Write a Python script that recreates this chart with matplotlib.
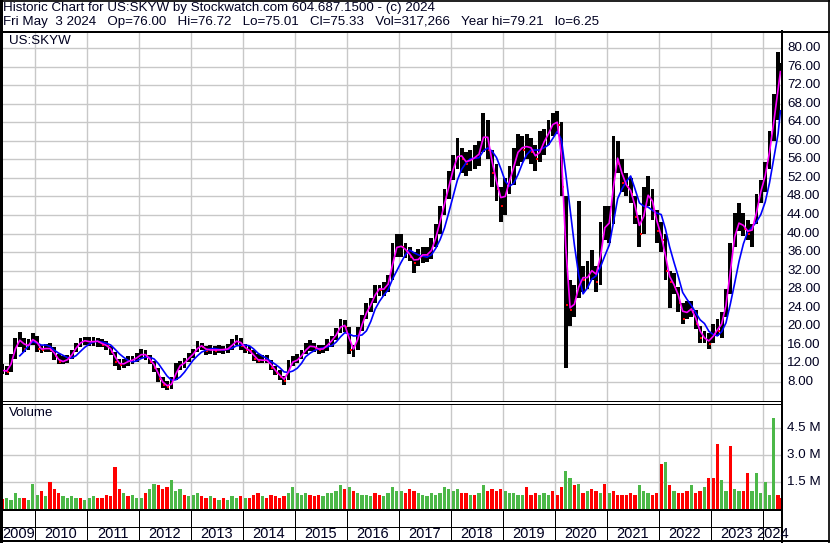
import matplotlib
matplotlib.use('Agg')
import matplotlib.pyplot as plt
from matplotlib.lines import Line2D
import numpy as np
import pandas as pd

plt.rcParams['font.family'] = ['Liberation Sans', 'DejaVu Sans']

title_line1 = "Historic Chart for US:SKYW by Stockwatch.com 604.687.1500 - (c) 2024"
title_line2 = ("Fri May  3 2024   Op=76.00   Hi=76.72   Lo=75.01   Cl=75.33   "
               "Vol=317,266   Year hi=79.21   lo=6.25")
symbol = "US:SKYW"
first_month = "2009-05"
last_day = "2024-05-03"

# monthly low / high / close (May 2009 .. May 2024)
low = [
    9.8, 9.6, 10.2, 13.0, 15.5, 14.5, 14.8, 16.0,
    14.5, 14.2, 14.5, 14.5, 12.8, 11.8, 11.8, 12.0, 13.0, 14.5, 15.5, 16.0,
    15.8, 15.8, 15.5, 15.5, 14.8, 13.8, 11.5, 10.5, 11.0, 11.5, 11.8, 12.2,
    13.2, 12.8, 11.8, 10.2, 8.0, 6.6, 6.25, 6.5, 8.5, 10.5, 11.0, 12.2,
    13.2, 14.5, 14.8, 13.8, 14.0, 13.8, 14.2, 14.0, 14.2, 15.0, 16.0, 15.0,
    14.2, 14.0, 12.6, 12.0, 12.0, 12.0, 10.5, 9.5, 8.5, 7.4, 8.5, 11.5,
    12.0, 13.0, 14.0, 14.6, 14.4, 14.0, 14.2, 14.6, 15.6, 17.0, 18.6, 18.8,
    14.0, 13.4, 15.0, 19.0, 21.5, 23.0, 25.0, 26.5, 26.5, 27.5, 30.0, 35.0,
    35.0, 34.8, 34.0, 31.5, 33.0, 33.6, 33.8, 34.5, 37.0, 40.0, 44.0, 47.5,
    51.5, 54.0, 53.0, 52.5, 53.5, 54.0, 54.5, 57.5, 56.0, 50.0, 47.0, 42.5,
    44.0, 48.5, 50.5, 54.5, 55.5, 56.0, 55.0, 53.5, 55.5, 57.0, 59.0, 61.0,
    61.5, 48.0, 11.0, 20.0, 22.0, 26.0, 27.5, 28.0, 30.0, 27.5, 29.0, 38.5,
    38.0, 42.0, 53.0, 49.0, 48.0, 46.5, 42.0, 37.0, 40.0, 46.0, 43.0, 38.0,
    36.0, 30.0, 24.0, 27.0, 23.0, 20.5, 21.5, 22.0, 19.5, 16.5, 16.5, 15.2,
    16.5, 18.0, 17.5, 22.0, 27.0, 37.0, 40.5, 39.5, 38.5, 37.0, 42.0, 46.5,
    49.0, 54.0, 60.0, 64.5, 75.0]

high = [
    11.8, 11.5, 14.0, 17.5, 18.8, 17.5, 17.2, 18.5,
    18.0, 16.0, 16.2, 16.5, 15.5, 14.0, 13.5, 13.8, 15.0, 16.5, 17.5, 17.8,
    17.6, 17.8, 17.5, 17.2, 16.8, 15.8, 14.5, 13.0, 13.0, 13.5, 13.5, 14.2,
    15.2, 14.8, 13.8, 12.6, 11.0, 9.0, 8.2, 9.0, 12.0, 12.6, 13.2, 14.2,
    15.2, 16.8, 16.5, 15.8, 16.0, 15.8, 16.0, 15.8, 16.2, 17.2, 18.2, 17.5,
    16.2, 15.8, 14.8, 14.0, 13.8, 13.8, 12.8, 11.5, 10.5, 9.2, 12.8, 13.5,
    14.0, 15.0, 16.4, 17.0, 16.4, 16.0, 16.0, 17.2, 18.0, 19.6, 21.6, 21.4,
    19.8, 16.0, 19.8, 22.5, 25.0, 26.0, 29.0, 29.0, 29.5, 31.0, 38.0, 40.0,
    39.8, 38.0, 37.0, 36.0, 36.6, 37.0, 37.0, 39.0, 42.0, 46.0, 49.5, 53.5,
    57.0, 60.5, 58.5, 57.5, 58.0, 59.0, 60.0, 66.0, 64.5, 58.0, 55.0, 50.0,
    52.0, 54.5, 58.5, 61.5, 61.0, 61.5, 60.5, 59.0, 62.0, 62.5, 64.5, 66.0,
    66.5, 64.0, 48.0, 30.0, 29.0, 47.0, 33.0, 34.0, 36.5, 33.0, 42.5, 46.0,
    46.0, 61.0, 60.0, 56.0, 53.0, 52.0, 48.0, 44.0, 50.0, 52.5, 49.5, 45.0,
    42.5, 40.0, 32.0, 31.5, 28.5, 25.0, 25.5, 25.5, 23.5, 20.0, 19.0, 18.5,
    20.5, 21.5, 23.0, 28.0, 38.0, 44.5, 46.5, 44.5, 43.0, 42.0, 48.5, 51.5,
    55.5, 62.0, 70.0, 79.2, 76.7]

close = [
    10.5, 10.2, 13.5, 16.8, 17.2, 15.2, 16.5, 17.8,
    15.2, 15.0, 15.4, 15.0, 13.5, 12.2, 12.6, 13.0, 14.6, 16.0, 16.8, 17.0,
    16.4, 17.0, 16.6, 16.0, 15.8, 14.5, 12.4, 11.6, 12.2, 12.6, 12.8, 13.6,
    14.2, 13.6, 12.4, 11.0, 8.6, 7.4, 7.0, 8.0, 11.4, 11.6, 12.6, 13.6,
    14.4, 16.0, 15.6, 14.6, 15.2, 14.6, 15.2, 14.8, 15.4, 16.4, 17.2, 15.8,
    15.0, 14.6, 13.0, 12.6, 12.8, 12.6, 11.0, 10.0, 9.0, 8.2, 12.2, 12.4,
    13.0, 14.2, 15.4, 16.0, 15.2, 15.0, 15.2, 16.6, 17.2, 19.0, 20.6, 19.8,
    15.0, 15.2, 19.2, 21.5, 24.2, 25.0, 28.4, 27.8, 28.2, 30.0, 36.5, 37.5,
    37.0, 36.2, 35.0, 33.6, 35.2, 35.6, 35.2, 37.5, 40.6, 44.6, 48.0, 52.0,
    55.6, 57.5, 56.0, 55.0, 56.5, 56.2, 58.0, 63.5, 58.0, 53.0, 49.5, 46.0,
    50.0, 52.5, 56.0, 59.0, 58.0, 59.5, 57.5, 56.0, 59.0, 60.5, 62.5, 64.5,
    63.5, 50.0, 24.5, 23.5, 26.0, 31.0, 30.0, 31.0, 33.0, 29.5, 40.5, 42.0,
    42.5, 57.5, 55.0, 51.0, 50.0, 48.5, 43.5, 40.0, 47.5, 49.0, 45.0, 40.5,
    38.5, 32.0, 29.5, 28.5, 25.0, 21.5, 24.5, 23.0, 20.5, 17.5, 17.5, 16.2,
    19.5, 19.0, 22.0, 27.0, 36.5, 42.0, 42.5, 41.0, 40.0, 41.5, 47.5, 50.5,
    54.5, 60.5, 67.5, 74.5, 75.3]

# monthly peak daily volume, millions of shares
volume_m = [
    0.55, 0.6, 0.5, 0.9, 0.6, 0.6, 0.5, 1.4,
    0.8, 1.0, 0.7, 1.5, 1.1, 0.9, 0.7, 0.6, 0.7, 0.6, 0.6, 0.5,
    0.6, 0.7, 0.6, 0.6, 0.8, 0.7, 2.3, 1.1, 0.9, 0.7, 0.8, 0.6,
    0.6, 0.9, 1.1, 1.4, 1.3, 1.1, 1.2, 1.6, 1.0, 1.1, 0.8, 0.7,
    0.8, 0.9, 0.7, 0.6, 0.7, 0.6, 0.5, 0.6, 0.5, 0.7, 0.6, 0.7,
    0.6, 0.6, 0.8, 0.9, 0.7, 0.6, 0.8, 0.7, 0.6, 0.7, 0.9, 1.2,
    0.9, 0.8, 0.9, 0.8, 0.7, 0.8, 0.7, 0.9, 0.9, 1.0, 1.3, 1.1,
    1.2, 1.0, 0.9, 0.8, 0.8, 0.7, 0.9, 0.8, 0.7, 0.9, 1.2, 1.0,
    1.0, 0.9, 1.1, 1.0, 0.9, 0.8, 0.7, 0.9, 0.8, 0.9, 1.2, 1.1,
    1.0, 1.1, 0.9, 0.9, 0.8, 0.8, 0.9, 1.3, 1.0, 1.1, 1.0, 1.1,
    1.0, 0.9, 0.9, 0.8, 0.8, 1.2, 0.8, 0.9, 0.8, 0.9, 0.8, 1.0,
    0.8, 1.2, 2.1, 1.7, 1.3, 1.4, 0.9, 1.0, 1.1, 1.0, 0.9, 1.4,
    0.9, 1.0, 0.8, 0.8, 0.8, 0.9, 0.8, 1.3, 1.0, 0.9, 0.8, 0.9,
    2.5, 2.6, 1.3, 1.0, 0.9, 0.9, 1.0, 1.3, 0.9, 1.0, 1.2, 1.7,
    1.7, 3.6, 1.6, 1.0, 3.5, 1.1, 1.0, 1.0, 2.0, 1.0, 2.0, 0.9,
    1.5, 0.8, 5.0, 0.8, 0.6]

# up (g) / down (r) day of the volume peak, one string per year
vol_dir = ("rggggrgg" + "grgrrrggggrg" + "ggrrrrrrgrgg" + "grggrrrgggrg"
           + "ggrrgrgrgggr" + "grrrgrrrrrgg" + "gggrrrgggggr" + "grggggrrgggg"
           + "grrrgggggggg" + "ggrrgrggrrrr" + "gggggrrrgggr" + "rrggrgrgrrgr"
           + "grrrrrrgggrr" + "rgrgrrrgrrgr" + "rrggrggrrggg" + "gggrr")

years = list(range(2009, 2025))
price_ticks = [8, 12, 16, 20, 24, 28, 32, 36, 40, 44, 48, 52, 56, 60, 64, 68, 72, 76, 80]
vol_ticks = [1.5, 3.0, 4.5]


def dec_year(ts):
    ts = pd.Timestamp(ts)
    start = pd.Timestamp(year=ts.year, month=1, day=1)
    end = pd.Timestamp(year=ts.year + 1, month=1, day=1)
    return ts.year + (ts - start) / (end - start)


months = pd.period_range(first_month, periods=len(close), freq='M')
m_start = np.array([dec_year(p.start_time) for p in months])
m_end = np.array([min(dec_year(p.end_time), dec_year(last_day) + 1 / 365) for p in months])
xc = (m_start + m_end) / 2
wd = (m_end - m_start)

close_s = pd.Series(close)
ma_short = close_s.rolling(2, min_periods=1).mean()   # ~20-day average
ma_long = close_s.rolling(5, min_periods=5).mean()    # ~100-day average

W, H = 830, 543
fig = plt.figure(figsize=(W / 100, H / 100), dpi=100)
fig.patch.set_facecolor('white')

xmin = 2009.365
xmax = 2024.365


def fx(px):
    return px / W


def fy(py):
    return 1 - py / H

grid_c = '#C8C8C8'

# price panel
ax = fig.add_axes([fx(2), fy(401), fx(780), (401 - 31) / H])
ax.set_xlim(xmin, xmax)
ax.set_ylim(3.9, 83.66)
for s in ax.spines.values():
    s.set_visible(False)
ax.set_xticks(years[1:])
ax.set_yticks(price_ticks)
ax.tick_params(length=0, labelbottom=False, labelleft=False)
ax.grid(True, color=grid_c, lw=1)
ax.set_axisbelow(True)
ax.bar(xc, np.array(high) - np.array(low), bottom=low, width=wd * 0.9,
       color='black', zorder=2)
down = np.r_[False, np.diff(close) < 0]
ax.scatter(xc[down] + wd[down] * 0.3, close_s[down], marker='s', s=3,
           color='red', zorder=3, linewidths=0)
ax.plot(xc, ma_long, color='#0000FF', lw=1.2, zorder=4)
ax.plot(xc, ma_short, color='#FF00FF', lw=1.2, zorder=5)

# volume panel
axv = fig.add_axes([fx(2), fy(509), fx(780), (509 - 404) / H])
axv.set_xlim(xmin, xmax)
axv.set_ylim(0, 5.8)
for s in axv.spines.values():
    s.set_visible(False)
axv.set_xticks(years[1:])
axv.set_yticks(vol_ticks)
axv.tick_params(length=0, labelbottom=False, labelleft=False)
axv.grid(True, color=grid_c, lw=1)
axv.set_axisbelow(True)
vcol = ['#FF0000' if c == 'r' else '#4CB848' for c in vol_dir]
axv.bar(xc, volume_m, width=wd * 0.75, color=vcol, zorder=2)

# overlay for frame, labels
ov = fig.add_axes([0, 0, 1, 1], facecolor='none')
ov.set_xlim(0, W)
ov.set_ylim(H, 0)
ov.axis('off')


def hline(y, x1, x2, lw=1.0):
    ov.add_line(Line2D([x1, x2], [y, y], color='black', lw=lw * 0.72))


def vline(x, y1, y2, lw=1.0):
    ov.add_line(Line2D([x, x], [y1, y2], color='black', lw=lw * 0.72))

hline(0.8, 0, W, 1.7)
hline(31.5, 0, W, 2)
hline(401, 0, 782, 1)
hline(404, 0, 782, 1)
hline(509.5, 0, 782, 2)
hline(527.2, 0, 782, 1)
hline(541.2, 0, W, 2)
vline(1.3, 0, H, 3)
vline(781.5, 31, H, 2)
vline(828.5, 0, H, 1.7)

txt_c = '#000020'
fs = 9.6
ov.text(3, 8.5, title_line1, fontsize=fs, va='center', ha='left', color=txt_c)
ov.text(3, 21.5, title_line2, fontsize=fs, va='center', ha='left', color=txt_c)
ov.text(9, 41.5, symbol, fontsize=fs, va='center', ha='left', color=txt_c)
ov.text(9, 413, "Volume", fontsize=fs, va='center', ha='left', color=txt_c)

# right-hand labels
for v in price_ticks:
    yp = ax.transData.transform((xmin, v))[1]
    ov.text(787, H - yp, f"{v:.2f}", fontsize=fs, va='center', ha='left', color=txt_c)
for v in vol_ticks:
    yp = axv.transData.transform((xmin, v))[1]
    ov.text(787, H - yp, f"{v:.1f} M", fontsize=fs, va='center', ha='left', color=txt_c)

# date axis
for yr in years[1:]:
    xp = ax.transData.transform((yr, 0))[0]
    vline(xp, 509.5, 541.2, 1)
for yr in years:
    a = max(yr, xmin)
    b = min(yr + 1, xmax)
    xp = ax.transData.transform(((a + b) / 2, 0))[0]
    ov.text(xp, 534.5, str(yr), fontsize=10.5, va='center', ha='center', color=txt_c)

fig.savefig('out.png', dpi=100, facecolor='white')
